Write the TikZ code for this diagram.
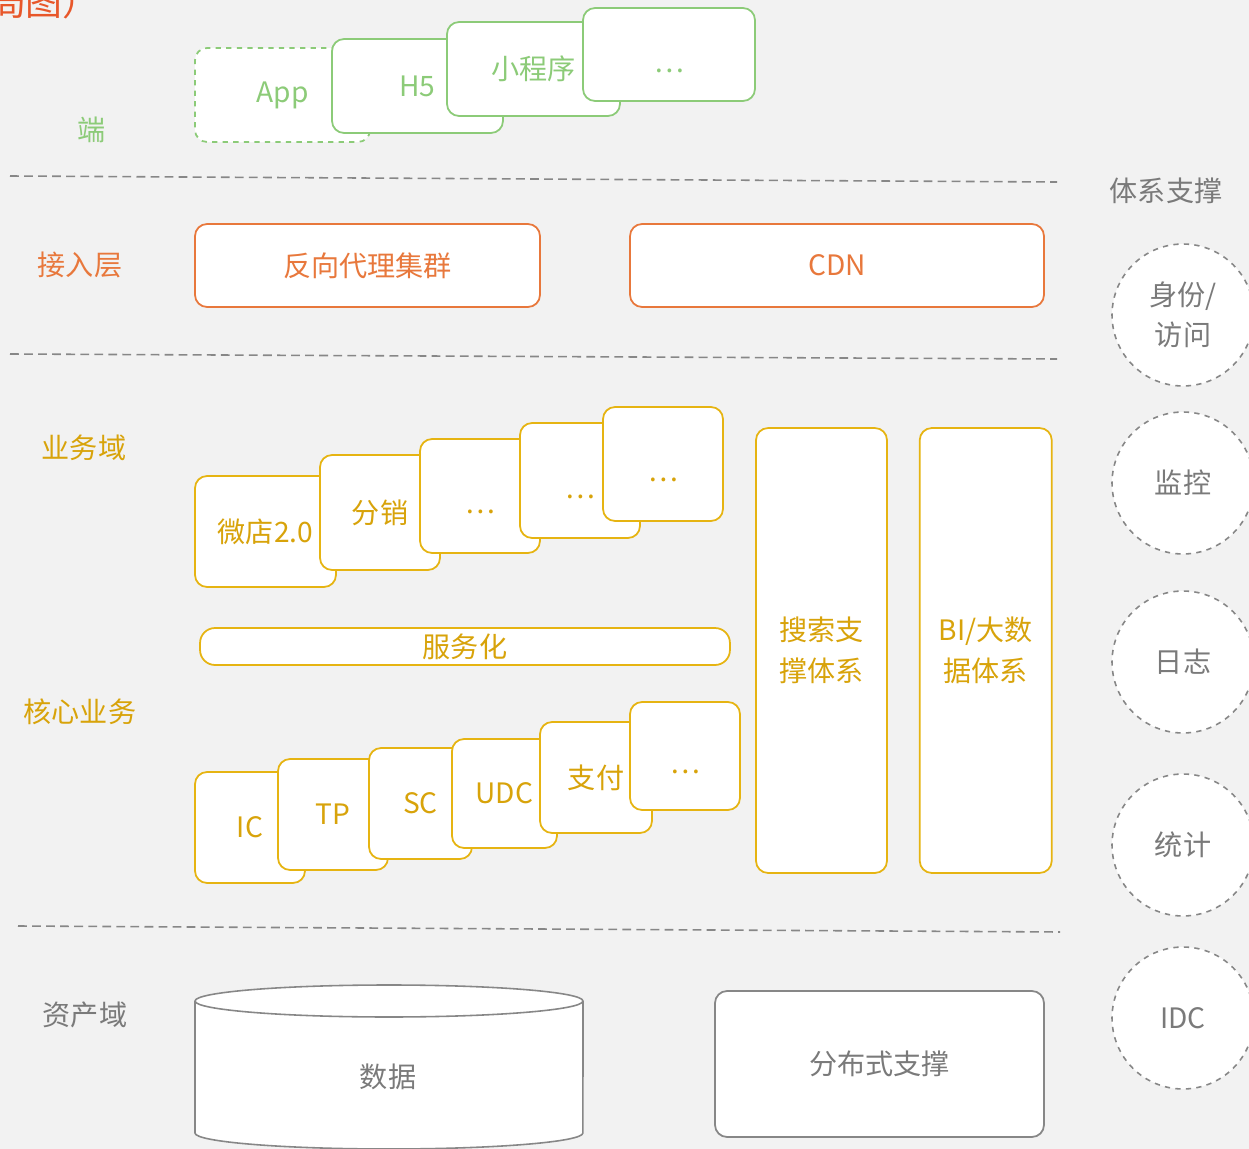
\documentclass[tikz,border=0pt]{standalone}
\usepackage{fontspec}
\setmainfont{Noto Sans CJK SC}
\usepackage{xcolor}
\usetikzlibrary{positioning}

\definecolor{bgcol}{HTML}{F2F2F2}
\definecolor{endgreen}{HTML}{8CCB78}
\definecolor{accorange}{HTML}{E8783C}
\definecolor{bizyellow}{HTML}{E6B412}
\definecolor{biztext}{HTML}{D8A30A}
\definecolor{sysgray}{HTML}{7A7A7A}
\definecolor{titlered}{HTML}{E8572A}

\newcommand{\moredots}{\raisebox{-10pt}[0pt][0pt]{…}}

\begin{document}
\begin{tikzpicture}[x=0.02cm,y=-0.02cm,font=\fontsize{16}{23}\selectfont]
\tikzset{box/.style={draw,fill=white,rounded corners=0.24cm,line width=1pt,inner sep=0pt,align=center},
endbox/.style={box,draw=endgreen,text=endgreen,minimum height=1.88cm},
accbox/.style={box,draw=accorange,text=accorange,minimum height=1.66cm},
bizbox/.style={box,draw=bizyellow,text=biztext},
assetbox/.style={box,draw=sysgray!90,text=sysgray},
sysring/.style={circle,draw=sysgray!90,dashed,fill=white,line width=0.9pt,minimum size=2.84cm,inner sep=0pt,align=center,text=sysgray},
layer/.style={draw=sysgray!90,line width=0.9pt,dash pattern=on 5pt off 3pt},
sidelabel/.style={inner sep=0pt}}

\clip (0,0) rectangle (1249,1149);
\fill[bgcol] (0,0) rectangle (1249,1149);

\node[text=titlered,font=\fontsize{21}{25}\selectfont,anchor=base east] (title) at (106,16) {（全局图）};

% layer separators
\draw[layer] (10,176) -- (1057,182);
\draw[layer] (10,354) -- (1057,359);
\draw[layer] (18,926) -- (1060,932);

% left labels
\node[sidelabel,text=endgreen] (lblend) at (92,130) {端};
\node[sidelabel,text=accorange] (lblacc) at (80,265) {接入层};
\node[sidelabel,text=biztext] (lblbiz) at (84,448) {业务域};
\node[sidelabel,text=biztext] (lblcore) at (80,712) {核心业务};
\node[sidelabel,text=sysgray] (lblasset) at (85,1015) {资产域};

% end
\node[endbox,dashed,minimum width=3.5cm] (app) at (282.5,95) {App};
\node[endbox,minimum width=3.42cm] (h5) at (417.5,86) {H5};
\node[endbox,minimum width=3.46cm] (mini) at (533.5,69) {小程序};
\node[endbox,minimum width=3.44cm,minimum height=1.86cm] (endmore) at (669,54.5) {\moredots};

% access
\node[accbox,minimum width=6.9cm] (proxy) at (367.5,265.5) {反向代理集群};
\node[accbox,minimum width=8.28cm] (cdn) at (837,265.5) {CDN};

% business domain
\node[bizbox,minimum width=2.82cm,minimum height=2.22cm] (shop) at (265.5,531.5) {微店2.0};
\node[bizbox,minimum width=2.4cm,minimum height=2.3cm] (dist) at (380,512.5) {分销};
\node[bizbox,minimum width=2.4cm,minimum height=2.28cm] (bizmore1) at (480,496) {\moredots};
\node[bizbox,minimum width=2.4cm,minimum height=2.3cm] (bizmore2) at (580,480.5) {\moredots};
\node[bizbox,minimum width=2.4cm,minimum height=2.28cm] (bizmore3) at (663,464) {\moredots};

\node[bizbox,rounded corners=0.3cm,minimum width=10.6cm,minimum height=0.74cm] (service) at (465,646.5) {服务化};

% core
\node[bizbox,minimum width=2.2cm,minimum height=2.22cm] (ic) at (250,827.5) {IC};
\node[bizbox,minimum width=2.2cm,minimum height=2.22cm] (tp) at (333,814.5) {TP};
\node[bizbox,minimum width=2.06cm,minimum height=2.22cm] (sc) at (420.5,803.5) {SC};
\node[bizbox,minimum width=2.1cm,minimum height=2.18cm] (udc) at (504.5,793.5) {UDC};
\node[bizbox,minimum width=2.24cm,minimum height=2.22cm] (pay) at (596,777.5) {支付};
\node[bizbox,minimum width=2.2cm,minimum height=2.16cm] (coremore) at (685,756) {\moredots};

\node[bizbox,minimum width=2.62cm,minimum height=8.9cm] (search) at (821.5,650.5) {搜索支\\撑体系};
\node[bizbox,minimum width=2.64cm,minimum height=8.9cm,right=0.62cm of search] (bigdata) {BI/大数\\据体系};

% assets
\draw[sysgray!90,line width=0.9pt,fill=white] (195,1001) -- (195,1133) arc[start angle=180,end angle=360,x radius=3.88cm,y radius=0.32cm] -- (583,1001);
\draw[sysgray!90,line width=0.9pt,fill=white] (389,1001) ellipse[x radius=3.88cm,y radius=0.32cm];
\node[sidelabel,text=sysgray] (data) at (388,1077) {数据};
\node[assetbox,minimum width=6.58cm,minimum height=2.92cm] (distsup) at (879.5,1064) {分布式支撑};

% system support
\node[sidelabel,text=sysgray] (syslbl) at (1166,191) {体系支撑};
\node[sysring] (auth) at (1183,315) {身份/\\访问};
\node[sysring] (monitor) at (1183,483) {监控};
\node[sysring] (log) at (1183,662) {日志};
\node[sysring] (stats) at (1183,845) {统计};
\node[sysring] (idc) at (1183,1018) {IDC};
\end{tikzpicture}
\end{document}
